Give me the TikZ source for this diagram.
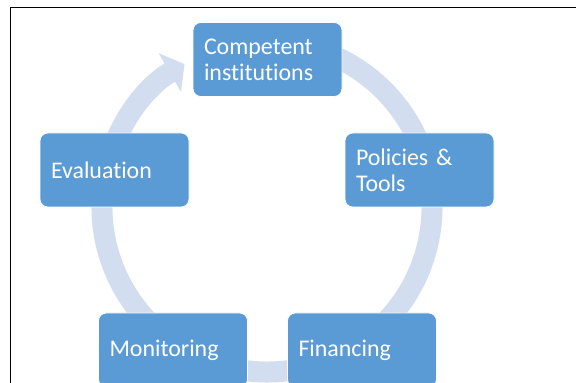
\documentclass[tikz,border=0pt]{standalone}
\usepackage{fontspec}
\setmainfont{Carlito}[Ligatures=NoCommon]
\usepackage{xcolor}
\usepackage{tikz}
\usetikzlibrary{arrows.meta}
\definecolor{stageblue}{HTML}{5B9BD5}
\definecolor{ringblue}{HTML}{D2DEEF}
\tikzset{
  stage/.style={draw=white, line width=0.6pt, rounded corners=0.24cm, fill=stageblue, text=white,
    minimum width=4.47cm, minimum height=2.22cm, text width=3.81cm, inner xsep=0.33cm, align=left,
    font=\fontsize{20.4pt}{22.2pt}\selectfont},
  ring/.style={line width=0.63cm, ringblue, -{Triangle[length=0.51cm, width=1.32cm]}},
  frame/.style={line width=0.8pt, black}
}

\begin{document}
\begin{tikzpicture}[x=1cm,y=1cm]
  \clip (0,0) rectangle (17.28,11.49);
  \fill[white] (0,0) rectangle (17.28,11.49);

  \draw[frame] (0.31,0) -- (0.31,11.28) -- (17.28,11.28);

  \coordinate (hub) at (8.01,5.28);
  \draw[ring] ([shift={(80:4.95)}]hub) arc[start angle=80, end angle=-240, radius=4.95];

  \node[stage] (inst) at (8.025,9.705) {Competent\\institutions};
  \node[stage] (policy) at (12.585,6.39) {Policies \&\\Tools};
  \node[stage] (finance) at (10.86,0.99) {Financing};
  \node[stage] (monitor) at (5.19,0.99) {Monitoring};
  \node[stage] (eval) at (3.435,6.39) {Evaluation};
\end{tikzpicture}
\end{document}
